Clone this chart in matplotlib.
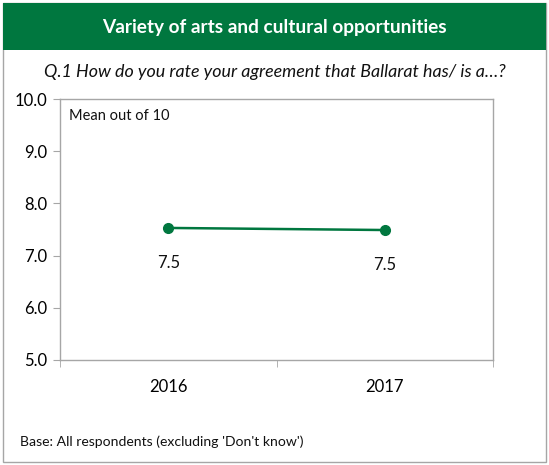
import matplotlib.pyplot as plt
from matplotlib.patches import Rectangle

years = ['2016', '2017']
means = [7.53, 7.49]
yticks = [5.0, 6.0, 7.0, 8.0, 9.0, 10.0]

green = '#00773F'
grey = '#A6A6A6'
plt.rcParams['font.family'] = ['Lato', 'DejaVu Sans']

W, H = 549, 465
fig = plt.figure(figsize=(W / 100, H / 100), dpi=100)

# outer frame and title banner
fig.patches.append(Rectangle((3 / W, 3 / H), 543 / W, 459 / H, transform=fig.transFigure,
                             fill=False, edgecolor=grey, lw=1))
fig.patches.append(Rectangle((3 / W, 1 - 50 / H), 543 / W, 47 / H, transform=fig.transFigure,
                             facecolor=green, edgecolor='none'))
fig.text(0.5, 1 - 27 / H, 'Variety of arts and cultural opportunities', color='white',
         fontsize=13.7, fontweight='bold', ha='center', va='center')
fig.text(0.5, 1 - 72 / H, 'Q.1 How do you rate your agreement that Ballarat has/ is a\u2026?',
         fontsize=12.9, style='italic', ha='center', va='center', color='#111111')
fig.text(20 / W, 1 - 442 / H, "Base: All respondents (excluding 'Don't know')",
         fontsize=10.1, ha='left', va='center', color='#111111')

ax = fig.add_axes([60 / W, 1 - 360 / H, 433 / W, 261 / H])
x = range(len(years))
ax.plot(x, means, color=green, lw=1.8, marker='o', markersize=7)
for xi, v in zip(x, means):
    ax.annotate(f'{v:.1f}', (xi, v), xytext=(0, -25), textcoords='offset points',
                ha='center', va='center', fontsize=12, color='#111111')

ax.set_xlim(-0.5, len(years) - 0.5)
ax.set_ylim(5, 10)
ax.set_yticks(yticks)
ax.set_yticklabels([f'{t:.1f}' for t in yticks], fontsize=12)
ax.set_xticks(list(x))
ax.set_xticklabels(years, fontsize=12)
ax.set_xticks([-0.5, 0.5, 1.5], minor=True)
ax.tick_params(axis='x', which='major', length=0, pad=14)
ax.tick_params(axis='x', which='minor', length=5, color=grey, direction='out')
ax.tick_params(axis='y', length=5, color=grey, direction='out', pad=4)
for s in ax.spines.values():
    s.set_color(grey)
    s.set_linewidth(1)
ax.text(0.02, 0.96, 'Mean out of 10', transform=ax.transAxes, fontsize=10.5,
        ha='left', va='top', color='#111111')

fig.savefig('out.png', dpi=100)
